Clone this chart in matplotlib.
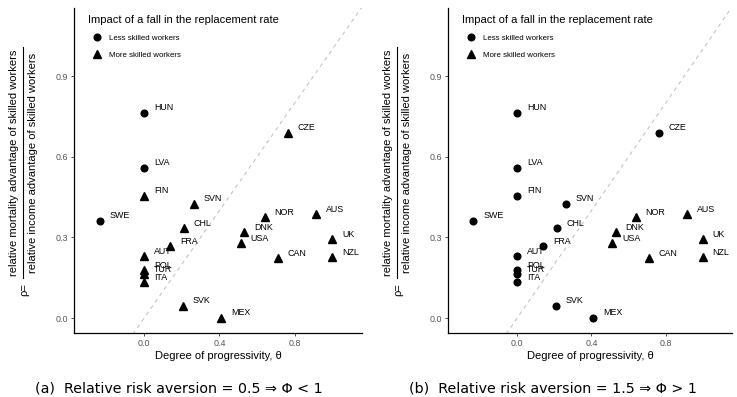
import matplotlib
matplotlib.use("Agg")
import matplotlib.pyplot as plt
from matplotlib.lines import Line2D

plt.rcParams['font.family'] = ['Liberation Sans', 'DejaVu Sans']

countries = ['HUN', 'CZE', 'LVA', 'FIN', 'SVN', 'SWE', 'CHL', 'NOR', 'AUS', 'DNK', 'USA',
             'FRA', 'UK', 'CAN', 'NZL', 'AUT', 'POL', 'TUR', 'ITA', 'SVK', 'MEX']
theta = [0.0, 0.762, 0.0, 0.0, 0.263, -0.235, 0.213, 0.64, 0.915, 0.531, 0.513,
         0.14, 1.0, 0.709, 1.0, 0.0, 0.0, 0.0, 0.0, 0.208, 0.41]
rho = [0.764, 0.69, 0.56, 0.455, 0.426, 0.363, 0.335, 0.375, 0.387, 0.32, 0.28,
       0.267, 0.293, 0.223, 0.228, 0.23, 0.178, 0.164, 0.133, 0.047, 0.002]

# group hit hardest by a fall in the replacement rate, per country
impact_low_rra = ['More' if c not in ('HUN', 'LVA', 'SWE') else 'Less' for c in countries]
impact_high_rra = ['More' if c in ('NOR', 'AUS', 'DNK', 'USA', 'UK', 'CAN', 'NZL') else 'Less'
                   for c in countries]

captions = ['(a)  Relative risk aversion = 0.5 \u21d2 \u03a6 < 1',
            '(b)  Relative risk aversion = 1.5 \u21d2 \u03a6 > 1']

W, H = 737, 397
fig = plt.figure(figsize=(W / 100, H / 100), dpi=100)

markers = {'Less': 'o', 'More': '^'}
sizes = {'Less': 4.8, 'More': 5.6}


def draw_panel(left, right, impact, caption):
    ax = fig.add_axes([left / W, 1 - 333 / H, (right - left) / W, 325 / H])
    ax.plot([-1, 2], [-1, 2], ls=(0, (4, 4)), color='#bdbdbd', lw=0.7, zorder=1)
    for x, y, name, grp in zip(theta, rho, countries, impact):
        ax.plot(x, y, marker=markers[grp], ms=sizes[grp], color='black', ls='none', zorder=3)
        ax.annotate(name, (x, y), xytext=(7, 3.5), textcoords='offset points',
                    fontsize=6.4, ha='left', va='center')
    ax.set_xlim(-0.372, 1.157)
    ax.set_ylim(-0.055, 1.153)
    ax.set_xticks([0.0, 0.4, 0.8])
    ax.set_yticks([0.0, 0.3, 0.6, 0.9])
    ax.set_xticklabels(['0.0', '0.4', '0.8'])
    ax.set_yticklabels(['0.0', '0.3', '0.6', '0.9'])
    ax.tick_params(labelsize=6.4, labelcolor='#555555', color='#333333', length=2.5, width=0.6, pad=2)
    for side in ('top', 'right'):
        ax.spines[side].set_visible(False)
    for side in ('left', 'bottom'):
        ax.spines[side].set_linewidth(0.9)
    ax.set_xlabel('Degree of progressivity, \u03b8', fontsize=8, labelpad=2)

    handles = [Line2D([], [], marker='o', ms=4.8, color='black', ls='none'),
               Line2D([], [], marker='^', ms=5.6, color='black', ls='none')]
    ax.legend(handles, ['Less skilled workers', 'More skilled workers'],
              title='Impact of a fall in the replacement rate', loc='upper left',
              bbox_to_anchor=(0.03, 0.995), frameon=False, fontsize=5.7,
              title_fontsize=8, alignment='left', handlelength=2.2,
              handletextpad=0.45, labelspacing=1.2, borderpad=0.2)

    # y label written as a fraction
    off = left - 74
    fig.text((14 + off) / W, 1 - 162.5 / H, 'relative mortality advantage of skilled workers',
             rotation=90, fontsize=8, ha='center', va='center')
    fig.text((33 + off) / W, 1 - 162.5 / H, 'relative income advantage of skilled workers',
             rotation=90, fontsize=8, ha='center', va='center')
    fig.add_artist(Line2D([(23.3 + off) / W] * 2, [1 - 47 / H, 1 - 278 / H],
                          color='black', lw=0.8))
    fig.text((24.5 + off) / W, 1 - 290 / H, '\u03c1=', rotation=90, fontsize=8,
             ha='center', va='center')

    fig.text((left - 39) / W, 1 - 389 / H, caption, fontsize=10.3, family='DejaVu Sans',
             ha='left', va='center')
    return ax


draw_panel(74, 362, impact_low_rra, captions[0])
draw_panel(448, 732, impact_high_rra, captions[1])

fig.savefig('out.png', dpi=100)
